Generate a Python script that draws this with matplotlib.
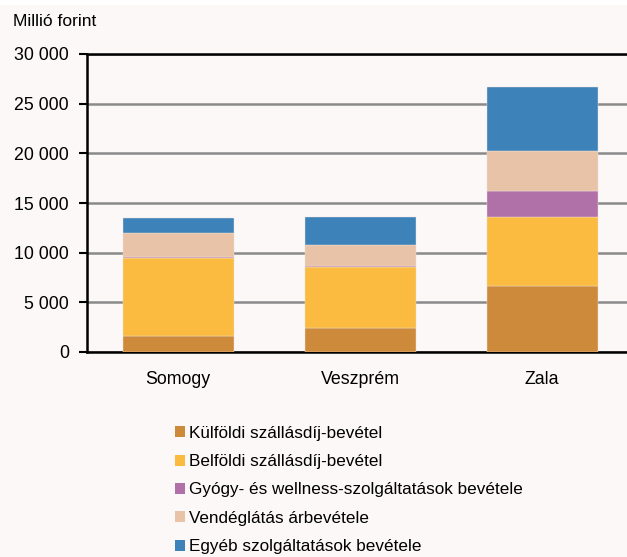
import matplotlib.pyplot as plt
from matplotlib.patches import Patch, Rectangle
import numpy as np

plt.rcParams['font.family'] = ['Liberation Sans', 'DejaVu Sans']

regions = ['Somogy', 'Veszprém', 'Zala']
series_names = ['Külföldi szállásdíj-bevétel',
                'Belföldi szállásdíj-bevétel',
                'Gyógy- és wellness-szolgáltatások bevétele',
                'Vendéglátás árbevétele',
                'Egyéb szolgáltatások bevétele']
kulfoldi = [1650, 2400, 6600]
belfoldi = [7800, 6150, 6950]
gyogy = [100, 100, 2700]
vendeglatas = [2400, 2100, 4000]
egyeb = [1550, 2870, 6400]
yticks = [0, 5000, 10000, 15000, 20000, 25000, 30000]

colors = ['#ce8a3b', '#fabb40', '#b070a8', '#e8c3a8', '#3d83ba']
bg = '#fbf8f7'

fig = plt.figure(figsize=(6.27, 5.57), dpi=100, facecolor=bg)
fig.patches.append(Rectangle((0, 1 - 5 / 557), 1, 5 / 557, transform=fig.transFigure,
                             facecolor='white', edgecolor='none', zorder=-1))
ax = fig.add_axes([87 / 627, 205 / 557, 1 - 87 / 627 + 0.01, 298 / 557])
ax.set_facecolor(bg)

x = np.arange(len(regions))
bottom = np.zeros(len(regions))
for vals, c in zip([kulfoldi, belfoldi, gyogy, vendeglatas, egyeb], colors):
    ax.bar(x, vals, width=0.61, bottom=bottom, color=c, edgecolor='#f0e2d6',
           linewidth=0.3, zorder=3)
    bottom += np.array(vals)

ax.set_ylim(0, 30000)
ax.set_xlim(-0.5, 2.5)
ax.set_yticks(yticks)
ax.set_yticklabels([f'{v:,}'.replace(',', ' ') for v in yticks], fontsize=12.8)
ax.set_xticks(x)
ax.set_xticklabels(regions, fontsize=12.8)
ax.tick_params(axis='x', length=0, pad=14)
ax.tick_params(axis='y', direction='out', length=6, width=1.5, pad=7)
ax.yaxis.grid(True, color='#8a8a8a', linewidth=1.8, zorder=0)
ax.set_axisbelow(True)
for s in ['left', 'bottom', 'top']:
    ax.spines[s].set_linewidth(1.8)
    ax.spines[s].set_color('black')
ax.spines['right'].set_visible(False)

fig.text(13 / 627, 1 - 22 / 557, 'Millió forint', fontsize=12.5, va='center', ha='left')

handles = [Patch(facecolor=c, edgecolor='none') for c in colors]
fig.legend(handles, series_names, loc='upper left', bbox_to_anchor=(168 / 627, 1 - 419 / 557),
           frameon=False, fontsize=12.3, handlelength=0.6, handleheight=0.6,
           handletextpad=0.25, labelspacing=0.78, borderaxespad=0)

fig.savefig('out.png', dpi=100, facecolor=bg)
